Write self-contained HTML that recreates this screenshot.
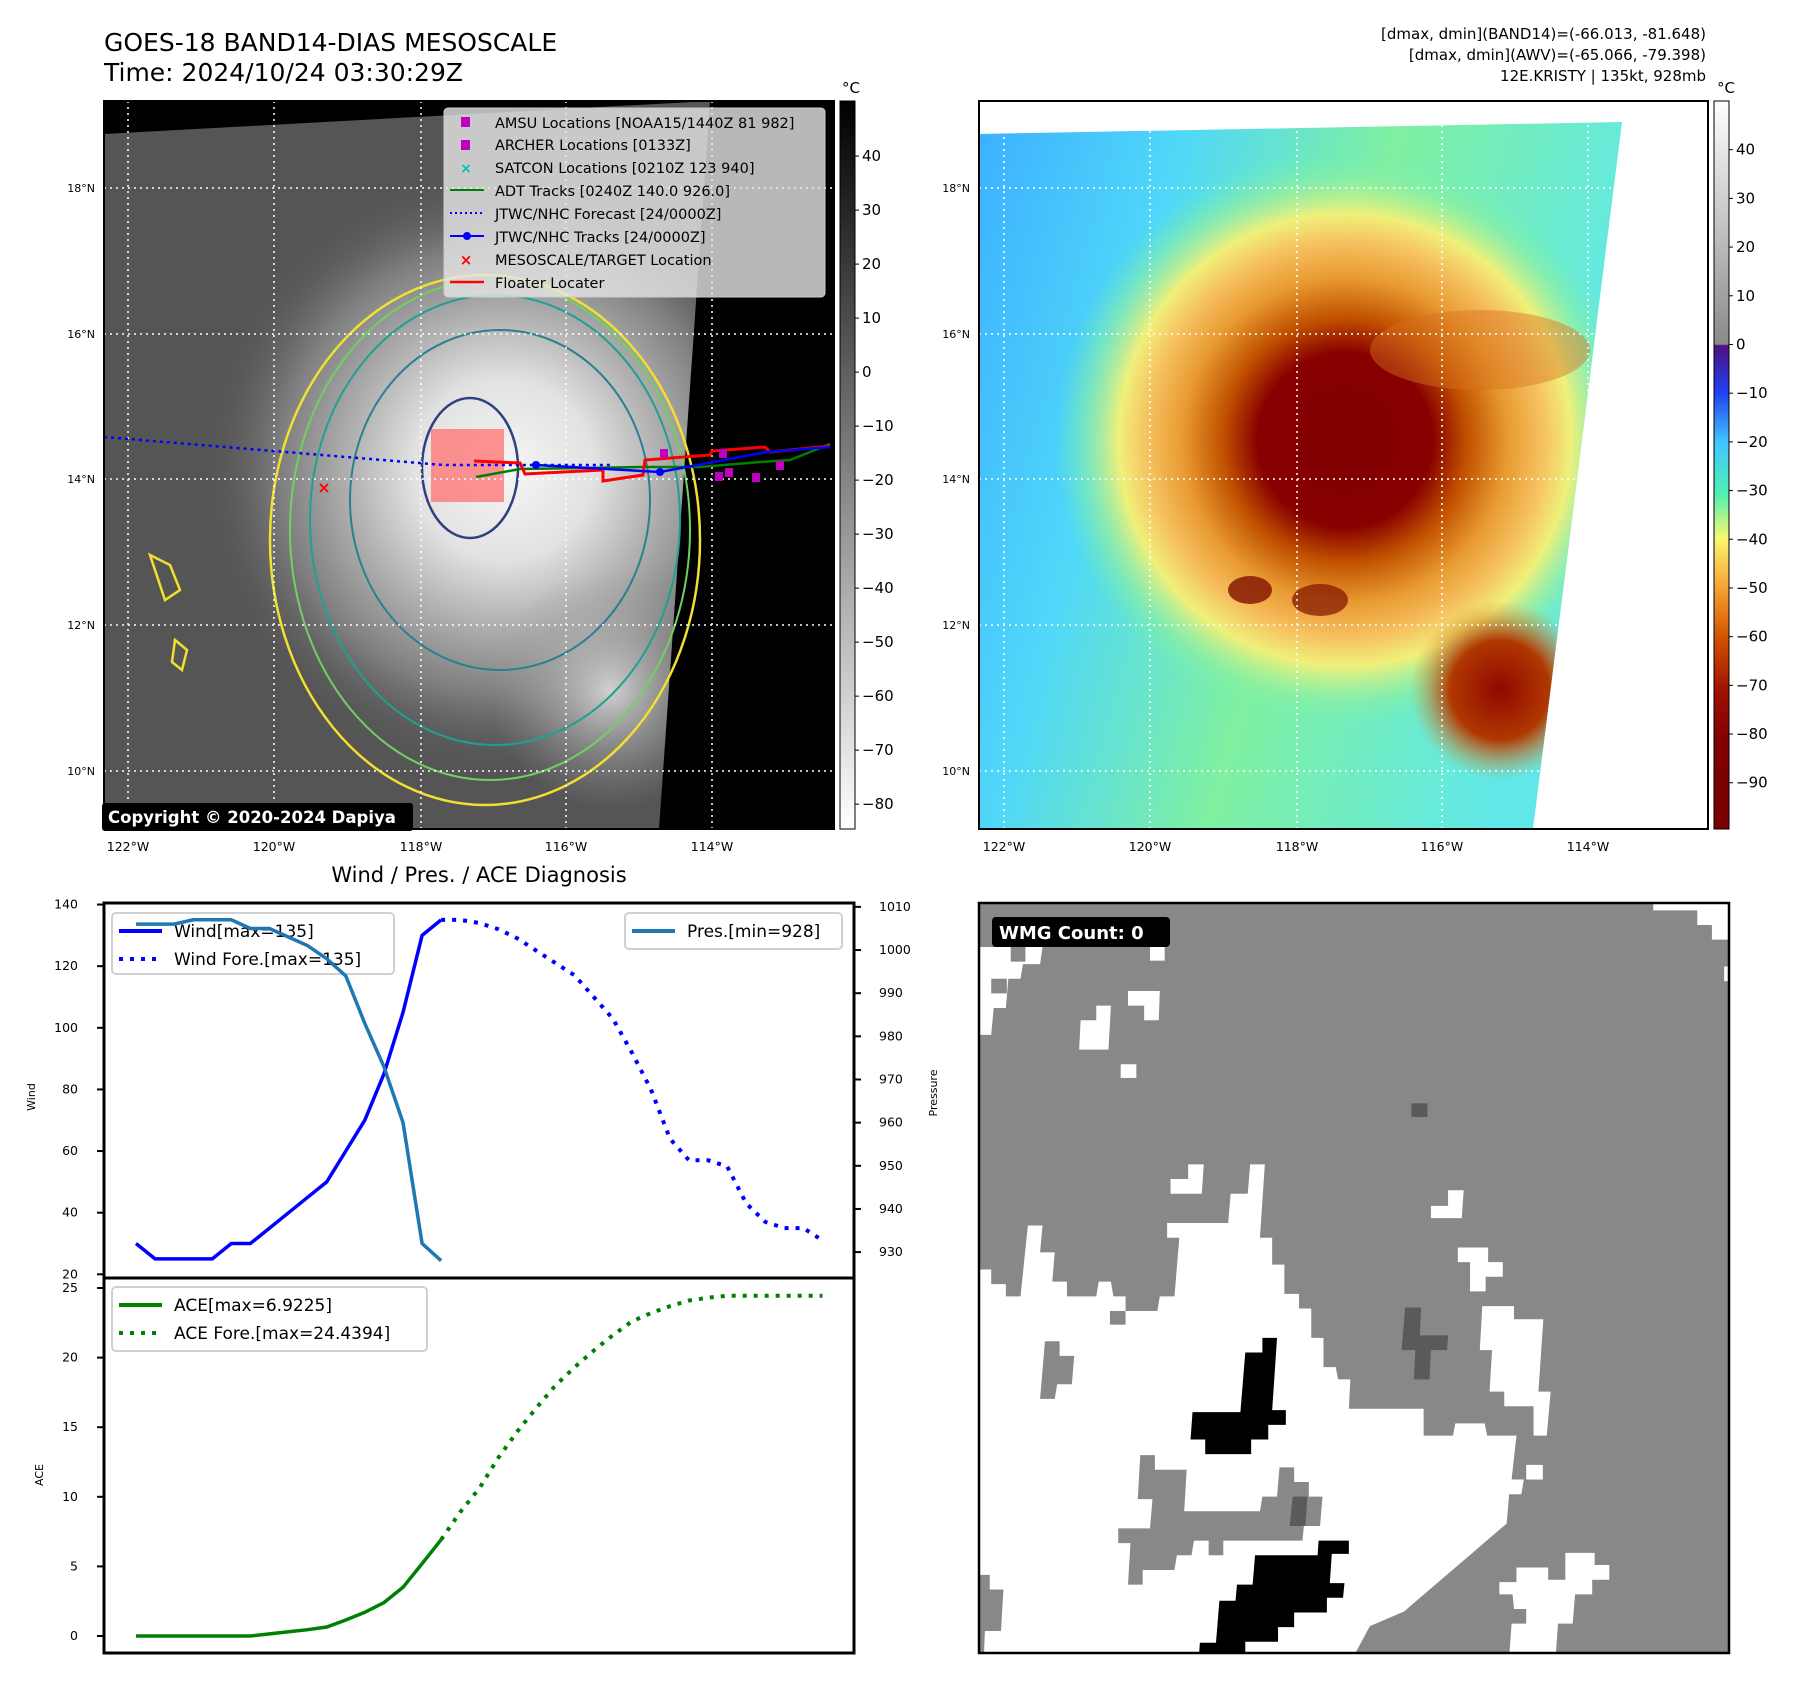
<!DOCTYPE html>
<html><head><meta charset="utf-8"><style>
html,body{margin:0;padding:0;background:#fff}
svg{display:block}
text{font-family:"DejaVu Sans","Liberation Sans",sans-serif}
</style></head><body>
<svg id="fig" width="1797" height="1690" viewBox="0 0 1797 1690" xmlns="http://www.w3.org/2000/svg">
<defs>
<clipPath id="c1"><rect x="104" y="101" width="730" height="728"/></clipPath>
<clipPath id="c2"><rect x="979" y="101" width="729" height="728"/></clipPath>
<clipPath id="c3"><rect x="979" y="903" width="750" height="750"/></clipPath>
<radialGradient id="gcore" cx="504" cy="470" r="300" gradientUnits="userSpaceOnUse">
<stop offset="0" stop-color="#f6f6f6"/><stop offset="0.3" stop-color="#e2e2e2"/><stop offset="0.5" stop-color="#b4b4b4"/><stop offset="0.75" stop-color="#7e7e7e"/><stop offset="1" stop-color="#5a5a5a" stop-opacity="0"/></radialGradient>
<radialGradient id="gse" cx="610" cy="690" r="120" gradientUnits="userSpaceOnUse">
<stop offset="0" stop-color="#d0d0d0"/><stop offset="1" stop-color="#9a9a9a" stop-opacity="0"/></radialGradient>
<radialGradient id="rcore" cx="1345" cy="440" r="290" gradientUnits="userSpaceOnUse">
<stop offset="0" stop-color="#800000"/><stop offset="0.3" stop-color="#880000"/><stop offset="0.42" stop-color="#c05000"/><stop offset="0.56" stop-color="#e89a30"/><stop offset="0.68" stop-color="#f6c060"/><stop offset="0.78" stop-color="#f0f07a"/><stop offset="0.9" stop-color="#90f0a0" stop-opacity="0.6"/><stop offset="1" stop-color="#70f0b0" stop-opacity="0"/></radialGradient>
<radialGradient id="rse" cx="1500" cy="690" r="90" gradientUnits="userSpaceOnUse">
<stop offset="0" stop-color="#900800"/><stop offset="0.55" stop-color="#b03800"/><stop offset="1" stop-color="#e09030" stop-opacity="0"/></radialGradient>
<linearGradient id="rbg" x1="0" y1="0" x2="1" y2="0.3">
<stop offset="0" stop-color="#3cb0ff"/><stop offset="0.3" stop-color="#50d8f8"/><stop offset="0.6" stop-color="#80f0a0"/><stop offset="1" stop-color="#60e8e8"/></linearGradient>
<linearGradient id="cb1" x1="0" y1="0" x2="0" y2="1"><stop offset="0" stop-color="#000"/><stop offset="1" stop-color="#fff"/></linearGradient>
<linearGradient id="cb2" x1="0" y1="0" x2="0" y2="1">
<stop offset="0" stop-color="#ffffff"/><stop offset="0.334" stop-color="#8a8a8a"/><stop offset="0.336" stop-color="#501080"/><stop offset="0.40" stop-color="#2040f0"/><stop offset="0.47" stop-color="#40c8ff"/><stop offset="0.54" stop-color="#50f0b0"/><stop offset="0.60" stop-color="#f8f870"/><stop offset="0.67" stop-color="#f8a030"/><stop offset="0.74" stop-color="#d05000"/><stop offset="0.81" stop-color="#a01000"/><stop offset="0.88" stop-color="#800000"/><stop offset="1" stop-color="#780000"/></linearGradient>
</defs>

<text x="104" y="51" font-size="25">GOES-18 BAND14-DIAS MESOSCALE</text>
<text x="104" y="81" font-size="25">Time: 2024/10/24 03:30:29Z</text>
<g font-size="15" text-anchor="end">
<text x="1706" y="39">[dmax, dmin](BAND14)=(-66.013, -81.648)</text>
<text x="1706" y="60">[dmax, dmin](AWV)=(-65.066, -79.398)</text>
<text x="1706" y="81">12E.KRISTY | 135kt, 928mb</text>
</g>

<g clip-path="url(#c1)">
<rect x="104" y="101" width="730" height="728" fill="#000"/>
<polygon points="104,134 710,101 659,829 104,829" fill="#555"/>
<g clip-path="url(#c1)">
<polygon points="104,134 710,101 659,829 104,829" fill="url(#gcore)"/>
<polygon points="104,134 710,101 659,829 104,829" fill="url(#gse)"/>
</g>
<ellipse cx="485" cy="540" rx="215" ry="265" fill="none" stroke="#f0e030" stroke-width="2.5"/>
<ellipse cx="490" cy="530" rx="200" ry="250" fill="none" stroke="#70d060" stroke-width="2"/>
<ellipse cx="495" cy="520" rx="185" ry="225" fill="none" stroke="#20a090" stroke-width="2"/>
<ellipse cx="500" cy="500" rx="150" ry="170" fill="none" stroke="#2a8090" stroke-width="2"/>
<ellipse cx="470" cy="468" rx="48" ry="70" fill="none" stroke="#304080" stroke-width="2.5"/>
<path d="M150,555 l20,10 l10,25 l-15,10 z M175,640 l12,10 l-5,20 l-10,-8 z" fill="none" stroke="#f0e030" stroke-width="2.5"/>
<rect x="431" y="429" width="73" height="73" fill="#ff7070" opacity="0.75"/>
</g>
<g stroke="#fff" stroke-width="1.5" stroke-dasharray="2,4">
<line x1="104" y1="188" x2="834" y2="188"/><line x1="104" y1="334" x2="834" y2="334"/><line x1="104" y1="479" x2="834" y2="479"/><line x1="104" y1="625" x2="834" y2="625"/><line x1="104" y1="771" x2="834" y2="771"/>
<line x1="128" y1="101" x2="128" y2="829"/><line x1="274" y1="101" x2="274" y2="829"/><line x1="421" y1="101" x2="421" y2="829"/><line x1="566" y1="101" x2="566" y2="829"/><line x1="712" y1="101" x2="712" y2="829"/>
</g>
<g fill="none">
<polyline points="104,437 443,465 610,465" stroke="#00f" stroke-width="2.5" stroke-dasharray="3,4"/>
<polyline points="476,477 520,469 640,467 700,467 760,462 790,460 830,444" stroke="#008000" stroke-width="2.5"/>
<polyline points="474,461 520,463 525,474 603,470 603,481 643,475 645,460 710,455 712,451 765,447 770,452 830,446" stroke="#f00" stroke-width="3"/>
<polyline points="536,465 660,472 767,452 830,447" stroke="#00f" stroke-width="2.5"/>
<circle cx="536" cy="465" r="4" fill="#00f"/><circle cx="660" cy="472" r="4" fill="#00f"/>
<g fill="#c000c0"><rect x="660" y="449" width="8" height="9"/><rect x="719" y="449" width="8" height="9"/><rect x="715" y="472" width="8" height="9"/><rect x="725" y="468" width="8" height="9"/><rect x="752" y="473" width="8" height="9"/><rect x="776" y="461" width="8" height="9"/></g>
<text x="324" y="493" fill="#f00" font-size="16" font-weight="bold" text-anchor="middle">×</text>
</g>
<rect x="104" y="101" width="730" height="728" fill="none" stroke="#000" stroke-width="2"/>
<g>
<rect x="444" y="108" width="381" height="189" rx="4" fill="#e6e6e6" fill-opacity="0.8" stroke="#ccc"/>
<g font-size="14.5">
<rect x="461" y="117" width="9" height="10" fill="#c000c0"/><text x="495" y="128">AMSU Locations [NOAA15/1440Z 81 982]</text>
<rect x="461" y="140" width="9" height="10" fill="#c000c0"/><text x="495" y="150">ARCHER Locations [0133Z]</text>
<text x="466" y="173" fill="#00c0c0" font-size="14" font-weight="bold" text-anchor="middle">×</text><text x="495" y="173">SATCON Locations [0210Z 123 940]</text>
<line x1="450" y1="190" x2="484" y2="190" stroke="#008000" stroke-width="2"/><text x="495" y="196">ADT Tracks [0240Z 140.0 926.0]</text>
<line x1="450" y1="213" x2="484" y2="213" stroke="#00f" stroke-width="2" stroke-dasharray="2,3"/><text x="495" y="219">JTWC/NHC Forecast [24/0000Z]</text>
<line x1="450" y1="236" x2="484" y2="236" stroke="#00f" stroke-width="2"/><circle cx="467" cy="236" r="4" fill="#00f"/><text x="495" y="242">JTWC/NHC Tracks [24/0000Z]</text>
<text x="466" y="265" fill="#f00" font-size="15" font-weight="bold" text-anchor="middle">×</text><text x="495" y="265">MESOSCALE/TARGET Location</text>
<line x1="450" y1="282" x2="484" y2="282" stroke="#f00" stroke-width="2.5"/><text x="495" y="288">Floater Locater</text>
</g></g>
<g>
<rect x="102" y="803" width="311" height="28" rx="3" fill="#000"/>
<text x="108" y="823" fill="#fff" font-size="16.5" font-weight="bold">Copyright © 2020-2024 Dapiya</text>
</g>
<g font-size="11" text-anchor="end">
<text x="95" y="192">18°N</text><text x="95" y="338">16°N</text><text x="95" y="483">14°N</text><text x="95" y="629">12°N</text><text x="95" y="775">10°N</text>
<text x="970" y="192">18°N</text><text x="970" y="338">16°N</text><text x="970" y="483">14°N</text><text x="970" y="629">12°N</text><text x="970" y="775">10°N</text>
</g>
<g font-size="12.5" text-anchor="middle">
<text x="128" y="851">122°W</text><text x="274" y="851">120°W</text><text x="421" y="851">118°W</text><text x="566" y="851">116°W</text><text x="712" y="851">114°W</text>
<text x="1004" y="851">122°W</text><text x="1150" y="851">120°W</text><text x="1297" y="851">118°W</text><text x="1442" y="851">116°W</text><text x="1588" y="851">114°W</text>
</g>
<g>
<rect x="840" y="101" width="15" height="728" fill="url(#cb1)" stroke="#000" stroke-width="1"/>
<text x="851" y="93" font-size="15" text-anchor="middle">°C</text>
<g font-size="15" id="cb1t"></g>
</g>
<g clip-path="url(#c2)">
<rect x="979" y="101" width="729" height="728" fill="#fff"/>
<polygon points="979,134 1622,122 1533,829 979,829" fill="url(#rbg)"/>
<g clip-path="url(#c2)">
<polygon points="979,134 1622,122 1533,829 979,829" fill="url(#rcore)"/>
<polygon points="979,134 1622,122 1533,829 979,829" fill="url(#rse)"/>
<ellipse cx="1480" cy="350" rx="110" ry="40" fill="#d87020" opacity="0.45"/>
<ellipse cx="1250" cy="590" rx="22" ry="14" fill="#801000" opacity="0.8"/>
<ellipse cx="1320" cy="600" rx="28" ry="16" fill="#801000" opacity="0.7"/>
</g></g>
<g stroke="#fff" stroke-width="1.5" stroke-dasharray="2,4">
<line x1="979" y1="188" x2="1708" y2="188"/><line x1="979" y1="334" x2="1708" y2="334"/><line x1="979" y1="479" x2="1708" y2="479"/><line x1="979" y1="625" x2="1708" y2="625"/><line x1="979" y1="771" x2="1708" y2="771"/>
<line x1="1004" y1="101" x2="1004" y2="829"/><line x1="1150" y1="101" x2="1150" y2="829"/><line x1="1297" y1="101" x2="1297" y2="829"/><line x1="1442" y1="101" x2="1442" y2="829"/><line x1="1588" y1="101" x2="1588" y2="829"/>
</g>
<rect x="979" y="101" width="729" height="728" fill="none" stroke="#000" stroke-width="2"/>
<g>
<rect x="1714" y="101" width="15" height="728" fill="url(#cb2)" stroke="#000" stroke-width="1"/>
<text x="1726" y="93" font-size="15" text-anchor="middle">°C</text>
<g font-size="15" id="cb2t"></g>
</g>

<g clip-path="url(#c3)">
<rect x="979" y="903" width="750" height="750" fill="#888"/>
<g transform="translate(979,903) scale(0.4886)">
<polygon fill="#fff" points="0,750 25,750 25,780 55,780 55,805 85,805 100,660 130,660 125,715 155,715 150,775 180,775 180,805 240,805 245,775 270,775 275,805 300,805 300,835 365,835 370,805 400,805 410,685 385,685 385,655 510,655 515,595 550,595 555,535 585,535 575,685 600,685 600,740 625,740 625,800 655,800 655,830 680,830 680,890 705,890 705,950 730,950 735,975 760,975 757,1035 910,1035 910,1090 970,1090 975,1065 1035,1065 1040,1090 1100,1090 1090,1180 1115,1180 1110,1210 1085,1210 1080,1270 1045,1300 1010,1330 975,1360 940,1390 905,1420 870,1450 800,1480 765,1545 0,1545"/>
<polygon fill="#fff" points="1030,825 1095,825 1095,852 1155,852 1145,1000 1170,1000 1162,1090 1135,1090 1135,1030 1075,1030 1075,1000 1045,1000 1050,915 1025,915"/>
<polygon fill="#fff" points="1065,1390 1100,1390 1100,1360 1165,1360 1165,1385 1200,1385 1200,1330 1260,1330 1260,1355 1290,1355 1290,1385 1255,1385 1255,1415 1220,1415 1215,1475 1185,1475 1180,1545 1085,1545 1090,1475 1120,1475 1120,1445 1095,1445 1092,1415 1065,1415"/>
<polygon fill="#fff" points="1380,0 1550,0 1550,75 1500,75 1500,45 1470,45 1470,15 1380,15"/>
<rect x="1525" y="130" width="20" height="30" fill="#fff"/>
<polygon fill="#fff" points="0,90 65,90 65,120 95,120 95,90 130,90 125,125 90,125 85,155 60,155 55,215 30,215 25,270 0,270"/>
<rect x="25" y="155" width="32" height="30" fill="#888"/>
<polygon fill="#fff" points="240,210 270,210 265,300 205,300 208,240 240,240"/>
<polygon fill="#fff" points="305,180 370,180 368,240 338,240 338,210 305,210"/>
<rect x="290" y="330" width="32" height="28" fill="#fff"/>
<rect x="350" y="90" width="30" height="28" fill="#fff"/>
<polygon fill="#fff" points="428,535 460,535 456,595 392,595 392,565 428,565"/>
<polygon fill="#fff" points="960,588 992,588 988,645 925,645 925,620 960,620"/>
<polygon fill="#fff" points="980,705 1042,705 1042,735 1072,735 1072,765 1037,765 1037,795 1005,795 1005,735 980,735"/>
<rect x="1120" y="1150" width="34" height="30" fill="#fff"/>
<polygon fill="#888" points="135,897 165,897 165,927 195,927 190,985 160,985 155,1015 125,1015"/>
<polygon fill="#888" points="330,1130 360,1130 360,1160 425,1160 420,1245 575,1245 580,1215 610,1215 615,1155 645,1155 645,1185 675,1185 675,1215 703,1215 698,1275 665,1275 662,1305 500,1305 500,1335 470,1335 470,1305 440,1305 435,1335 405,1335 400,1365 335,1365 335,1395 305,1395 310,1310 285,1310 285,1280 350,1280 355,1220 325,1220"/>
<polygon fill="#888" points="0,1375 22,1375 22,1405 50,1405 45,1490 12,1490 10,1545 0,1545"/>
<rect x="268" y="835" width="32" height="28" fill="#888"/>
<g fill="#5a5a5a"><rect x="885" y="410" width="33" height="28"/><polygon points="872,828 905,828 902,885 960,885 958,915 925,915 922,975 890,975 893,915 865,915"/><polygon points="642,1215 672,1215 668,1275 636,1275"/></g>
<polygon fill="#000" points="580,890 610,890 600,1038 628,1038 628,1068 592,1068 592,1098 557,1098 557,1128 463,1128 463,1098 433,1098 437,1042 535,1042 545,920 580,920"/>
<polygon fill="#000" points="695,1305 757,1305 757,1332 722,1332 718,1392 748,1392 745,1422 712,1422 712,1452 645,1452 645,1482 612,1482 612,1512 545,1512 545,1545 450,1545 452,1514 485,1514 492,1428 525,1428 528,1395 560,1395 565,1335 693,1335"/>
</g>
</g>
<rect x="979" y="903" width="750" height="750" fill="none" stroke="#000" stroke-width="2.5"/>
<g>
<rect x="992" y="917" width="178" height="30" rx="4" fill="#000"/>
<text x="999" y="939" fill="#fff" font-size="18" font-weight="bold">WMG Count: 0</text>
</g>

<text x="479" y="882" font-size="21" text-anchor="middle">Wind / Pres. / ACE Diagnosis</text>
<g id="chart"></g>
</svg>
<script>
var NS='http://www.w3.org/2000/svg';
var windObs=[30,25,25,25,25,30,30,35,40,45,50,60,70,85,105,130,135];
var windFore=[135,135,134,132,129,125,121,117,110,103,92,80,64,57,57,55,43,37,35,35,31];
var presObs=[1006,1006,1006,1007,1007,1007,1005,1005,1003,1001,998,994,983,973,960,932,928];
var aceObs=[0,0,0,0,0,0,0,0.15,0.3,0.45,0.65,1.15,1.7,2.4,3.5,5.2,6.92];
var aceFore=[6.92,8.9,10.6,12.8,14.7,16.4,18,19.3,20.5,21.6,22.6,23.2,23.7,24.1,24.3,24.44,24.44,24.44,24.44,24.44,24.44];
var windTicks=[20,40,60,80,100,120,140];
var presTicks=[930,940,950,960,970,980,990,1000,1010];
var aceTicks=[0,5,10,15,20,25];
var cb1Ticks=[40,30,20,10,0,-10,-20,-30,-40,-50,-60,-70,-80];
var cb2Ticks=[40,30,20,10,0,-10,-20,-30,-40,-50,-60,-70,-80,-90];

var L=104,R=854,T=903,M=1278,B=1653;
function X(k){return 136+k*19.07;}
function YW(v){return T+(140.5-v)/(140.5-18.8)*(M-T);}
function YP(v){return T+(1010.9-v)/(1010.9-924.0)*(M-T);}
function YA(v){return 1288+(25-v)*(348/25);}
function CB1(v){return 101+(50.2-v)/(50.2+84.6)*728;}
function CB2(v){return 101+(50-v)/(50+99.5)*728;}
var g=document.getElementById('chart');
function mk(tag,attrs,parent){var e=document.createElementNS(NS,tag);for(var a in attrs)e.setAttribute(a,attrs[a]);(parent||g).appendChild(e);return e;}
function pts(arr,off,fy){return arr.map(function(v,i){return X(i+off).toFixed(1)+','+fy(v).toFixed(1);}).join(' ');}

var cbg=document.getElementById('cb1t');
cb1Ticks.forEach(function(v){var y=CB1(v);
 var t=mk('text',{x:862,y:y+5},cbg);t.textContent=v<0?'\u2212'+(-v):String(v);
 
 
 mk('line',{x1:855,x2:859,y1:y,y2:y,stroke:'#000'},cbg);});
var cbg2=document.getElementById('cb2t');
cb2Ticks.forEach(function(v){var y=CB2(v);
 var t=mk('text',{x:1736,y:y+5},cbg2);t.textContent=v<0?'\u2212'+(-v):String(v);
 
 
 mk('line',{x1:1729,x2:1733,y1:y,y2:y,stroke:'#000'},cbg2);});

mk('rect',{x:L,y:T,width:R-L,height:B-T,fill:'#fff',stroke:'none'});
windTicks.forEach(function(v){var y=YW(v);mk('line',{x1:L-7,x2:L,y1:y,y2:y,stroke:'#000','stroke-width':2});
 var t=mk('text',{x:L-26,y:y+4,'font-size':12.5,'text-anchor':'end'});t.textContent=v;
 
 });
presTicks.forEach(function(v){var y=YP(v);mk('line',{x1:R,x2:R+7,y1:y,y2:y,stroke:'#000','stroke-width':2});
 var t=mk('text',{x:879,y:y+4,'font-size':12.5});t.textContent=v;
 
 });
aceTicks.forEach(function(v){var y=YA(v);mk('line',{x1:L-7,x2:L,y1:y,y2:y,stroke:'#000','stroke-width':2});
 var t=mk('text',{x:L-26,y:y+4,'font-size':12.5,'text-anchor':'end'});t.textContent=v;
 
 });
var s;
s=mk('polyline',{points:pts(windObs,0,YW),fill:'none',stroke:'#0000ff','stroke-width':3.5});


s=mk('polyline',{points:pts(windFore,16,YW),fill:'none',stroke:'#0000ff','stroke-width':4,'stroke-dasharray':'4,7'});


s=mk('polyline',{points:pts(aceObs,0,YA),fill:'none',stroke:'#008000','stroke-width':3.5});


s=mk('polyline',{points:pts(aceFore,16,YA),fill:'none',stroke:'#008000','stroke-width':4,'stroke-dasharray':'4,7'});


mk('rect',{x:L,y:T,width:R-L,height:B-T,fill:'none',stroke:'#000','stroke-width':3});
mk('line',{x1:L,x2:R,y1:M,y2:M,stroke:'#000','stroke-width':3});
var t;
t=mk('text',{x:35,y:1097,'font-size':11,'text-anchor':'middle',transform:'rotate(-90 35 1097)'});t.textContent='Wind';

t=mk('text',{x:937,y:1093,'font-size':11,'text-anchor':'middle',transform:'rotate(-90 937 1093)'});t.textContent='Pressure';

t=mk('text',{x:43,y:1475,'font-size':11,'text-anchor':'middle',transform:'rotate(-90 43 1475)'});t.textContent='ACE';

function legend(x,y,w,h,items,name){var lg=mk('g',{});
 
 
 mk('rect',{x:x,y:y,width:w,height:h,rx:4,fill:'#fff','fill-opacity':0.8,stroke:'#d0d0d0','stroke-width':2},lg);
 items.forEach(function(it,i){var cy=y+18+i*28;
  var ln=mk('line',{x1:x+7,x2:x+50,y1:cy,y2:cy,stroke:it[1],'stroke-width':4},lg);
  if(it[2])ln.setAttribute('stroke-dasharray','4,7');
  var tx=mk('text',{x:x+62,y:cy+6,'font-size':17},lg);tx.textContent=it[0];});}
legend(112,913,282,61,[['Wind[max=135]','#0000ff',0],['Wind Fore.[max=135]','#0000ff',1]],'wind-legend');
legend(625,913,217,36,[['Pres.[min=928]','#1f77b4',0]],'pressure-legend');
legend(112,1287,315,64,[['ACE[max=6.9225]','#008000',0],['ACE Fore.[max=24.4394]','#008000',1]],'ace-legend');
s=mk('polyline',{points:pts(presObs,0,YP),fill:'none',stroke:'#1f77b4','stroke-width':3.5});


</script>
</body></html>
